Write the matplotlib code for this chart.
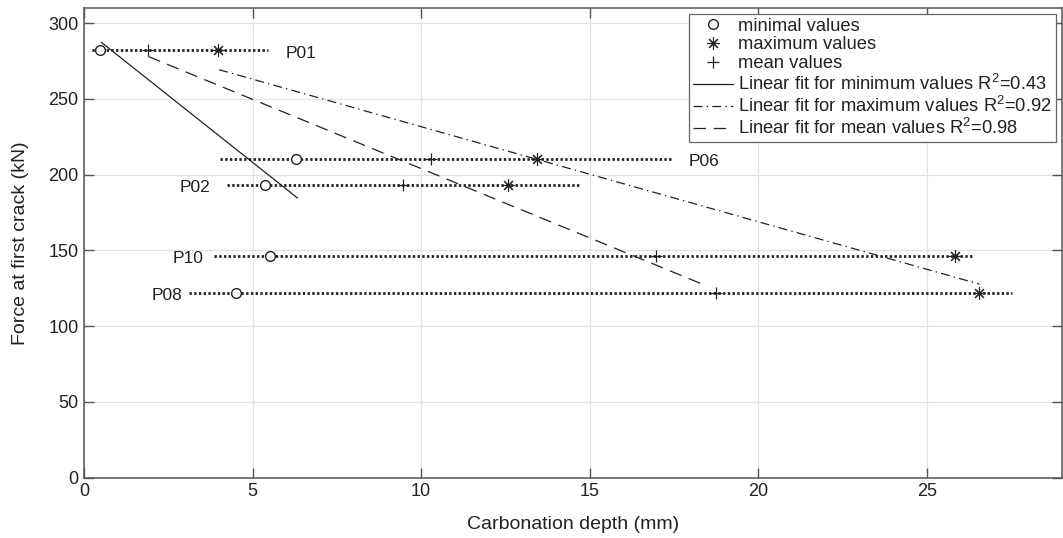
import numpy as np
import matplotlib
matplotlib.use("Agg")
import matplotlib.pyplot as plt

# Specimen data: force at first crack and carbonation depth statistics
specimens = ['P01', 'P06', 'P02', 'P10', 'P08']
force = [282.0, 210.5, 193.3, 146.4, 122.2]
depth_min = [0.49, 6.30, 5.36, 5.52, 4.50]
depth_mean = [1.91, 10.28, 9.45, 16.97, 18.75]
depth_max = [3.98, 13.45, 12.58, 25.83, 26.56]
range_start = [0.23, 4.03, 4.23, 3.85, 3.12]
range_end = [5.46, 17.47, 14.67, 26.36, 27.52]

# Linear fits (end points of each fitted line)
fit_min_x = [0.52, 6.33]
fit_min_y = [287.3, 184.7]
fit_max_x = [4.01, 26.56]
fit_max_y = [269.3, 127.8]
fit_mean_x = [1.91, 18.45]
fit_mean_y = [278.0, 126.8]
r2 = {'min': 0.43, 'max': 0.92, 'mean': 0.98}

plt.rcParams['font.family'] = ['Liberation Sans', 'DejaVu Sans']
plt.rcParams['mathtext.fontset'] = 'custom'
plt.rcParams['mathtext.rm'] = 'Liberation Sans'
plt.rcParams['lines.scale_dashes'] = False

ink = '#222222'
axcol = '#555555'

fig = plt.figure(figsize=(10.63, 5.38), dpi=100)
ax = fig.add_axes([0.079, 0.112, 0.9198, 0.873])

# dotted range lines per specimen
for y, x0, x1 in zip(force, range_start, range_end):
    ax.plot([x0, x1], [y, y], color=ink, lw=2.0, linestyle=(0, (1.7, 1.7)),
            dash_capstyle='butt', zorder=3)

# label side: right of the range for P01/P06, left otherwise
label_side = {'P01': ('right', 18), 'P06': ('right', 16), 'P02': ('left', 16),
              'P10': ('left', 10), 'P08': ('left', 7)}
for name, y, x0, x1 in zip(specimens, force, range_start, range_end):
    side, off = label_side[name]
    if side == 'right':
        ax.annotate(name, (x1, y), xytext=(off * 0.72, -2), textcoords='offset points',
                    ha='left', va='center', fontsize=12.5, color=ink)
    else:
        ax.annotate(name, (x0, y), xytext=(-off * 0.72, -2), textcoords='offset points',
                    ha='right', va='center', fontsize=12.5, color=ink)

h_min, = ax.plot(depth_min, force, 'o', ms=7, mfc='white', mec=ink, mew=1.0,
                 linestyle='none', zorder=4, label='minimal values')
h_max, = ax.plot(depth_max, force, marker=(8, 2, 0), ms=9, color=ink, mew=0.8,
                 linestyle='none', zorder=4, label='maximum values')
h_mean, = ax.plot(depth_mean, force, '+', ms=9, color=ink, mew=0.9,
                  linestyle='none', zorder=4, label='mean values')

f1, = ax.plot(fit_min_x, fit_min_y, '-', color=ink, lw=0.9, zorder=3,
              label='Linear fit for minimum values R$^2$=%.2f' % r2['min'])
f2, = ax.plot(fit_max_x, fit_max_y, color=ink, lw=0.9, zorder=3,
              linestyle=(0, (6.5, 3, 1, 3)),
              label='Linear fit for maximum values R$^2$=%.2f' % r2['max'])
f3, = ax.plot(fit_mean_x, fit_mean_y, color=ink, lw=0.9, zorder=3,
              linestyle=(0, (9, 5.5)),
              label='Linear fit for mean values R$^2$=%.2f' % r2['mean'])

ax.set_xlim(0, 29)
ax.set_ylim(0, 310)
ax.set_xticks(np.arange(0, 30, 5))
ax.set_yticks(np.arange(0, 301, 50))
ax.grid(True, color='#e2e2e2', lw=0.9)
ax.set_axisbelow(True)
for s in ax.spines.values():
    s.set_color(axcol)
    s.set_linewidth(1.1)
ax.tick_params(direction='in', length=7.5, width=1.0, color=axcol,
               labelsize=13, labelcolor=ink, top=True, right=True, pad=4)

ax.set_xlabel('Carbonation depth (mm)', fontsize=14, color=ink, labelpad=11)
ax.set_ylabel('Force at first crack (kN)', fontsize=14, color=ink, labelpad=14)

leg = ax.legend(handles=[h_min, h_max, h_mean, f1, f2, f3], loc='upper right',
                fontsize=13.2, frameon=True, fancybox=False, framealpha=1,
                edgecolor='#666666', handlelength=2.2, handletextpad=0.3,
                labelspacing=0.1, borderpad=0.2, borderaxespad=0.32)
leg.get_frame().set_linewidth(0.9)
for t in leg.get_texts():
    t.set_color(ink)

fig.savefig('out.png', dpi=100)
